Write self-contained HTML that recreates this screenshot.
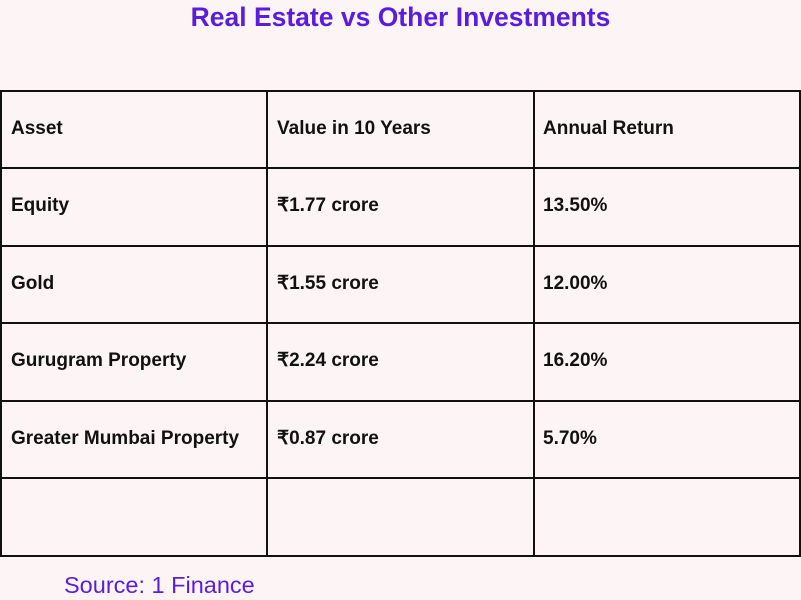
<!DOCTYPE html>
<html><head><meta charset="utf-8"><style>
body{margin:0;width:801px;height:600px;background:#fdf4f5;position:relative;overflow:hidden;font-family:"Liberation Sans",sans-serif}
.t{position:absolute;left:0;width:801px;top:1px;text-align:center;color:#5a1ddc;font-weight:bold;font-size:26.5px;line-height:32px}
.hl{position:absolute;left:0;width:801px;height:2px;background:#111}
.vl{position:absolute;top:91px;height:466px;width:2px;background:#111}
.c{position:absolute;font-size:19px;font-weight:bold;color:#111;line-height:22px}
.s{position:absolute;left:64px;top:572px;font-size:23.5px;color:#5a1ddc}
</style></head><body>
<div class="t">Real Estate vs Other Investments</div>
<div>
<div class="hl" style="top:90px"></div><div class="hl" style="top:167px"></div><div class="hl" style="top:245px"></div><div class="hl" style="top:322px"></div><div class="hl" style="top:400px"></div><div class="hl" style="top:477px"></div><div class="hl" style="top:555px"></div>
<div class="vl" style="left:0"></div><div class="vl" style="left:266px"></div><div class="vl" style="left:533px"></div><div class="vl" style="left:799px"></div>
</div>
<div id="cells"></div>
<div class="s">Source: 1 Finance</div>
<script>
const rows=[["Asset","Value in 10 Years","Annual Return"],["Equity","₹1.77 crore","13.50%"],["Gold","₹1.55 crore","12.00%"],["Gurugram Property","₹2.24 crore","16.20%"],["Greater Mumbai Property","₹0.87 crore","5.70%"]];
const xs=[11,277,543],ys=[118,195,273,350,428];
const box=document.getElementById('cells');
rows.forEach((r,i)=>r.forEach((v,j)=>{const d=document.createElement('div');d.className='c';d.style.left=xs[j]+'px';d.style.top=ys[i]+'px';d.textContent=v;


box.appendChild(d);}));
</script>
</body></html>
